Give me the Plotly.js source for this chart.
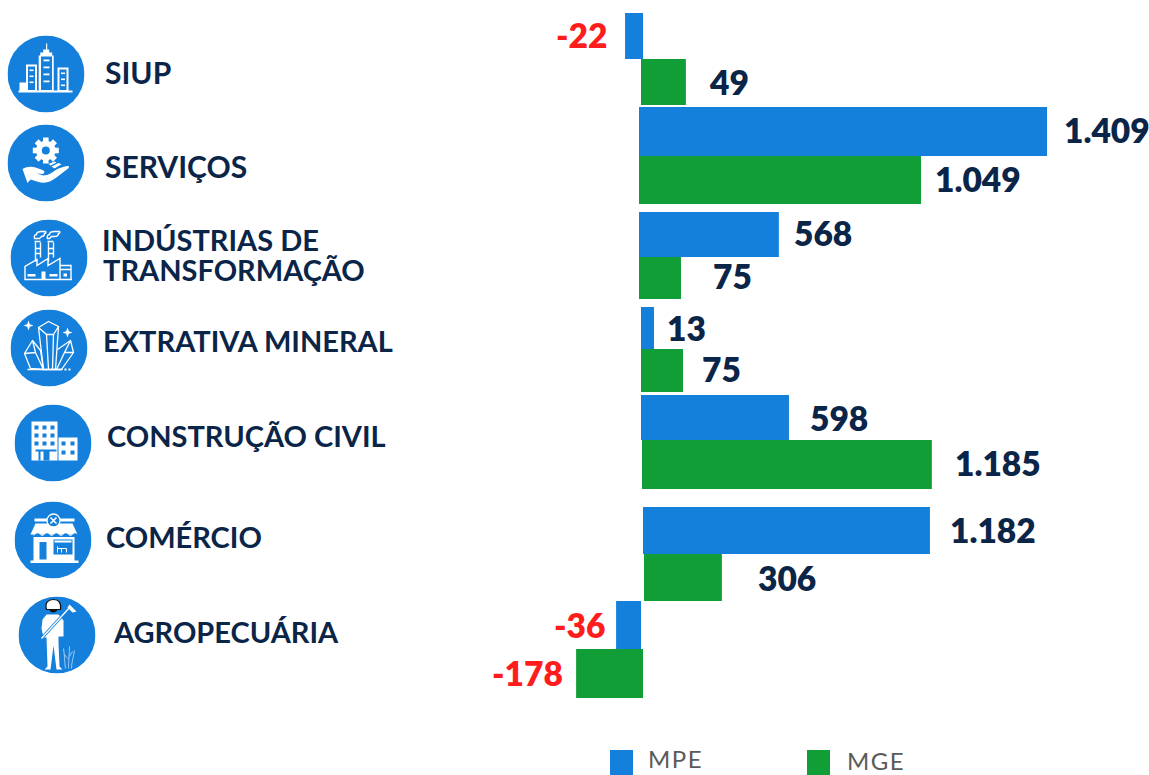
<!DOCTYPE html>
<html><head><meta charset="utf-8">
<script src="https://cdn.plot.ly/plotly-3.0.1.min.js"></script>
<style>html,body{margin:0;padding:0;background:#fff;overflow:hidden}#c{width:1149px;height:775px}</style>
</head><body><div id="c"></div>
<script>
// ---- data ----
const categories = ["SIUP","SERVIÇOS","INDÚSTRIAS DE\nTRANSFORMAÇÃO","EXTRATIVA MINERAL","CONSTRUÇÃO CIVIL","COMÉRCIO","AGROPECUÁRIA"];
// printed labels
const mpeLabels = ["-22","1.409","568","13","598","1.182","-36"];
const mgeLabels = ["49","1.049","75","75","1.185","306","-178"];
// bar lengths as actually drawn in the picture (it is not to a strict scale), in units where the 1.409 bar = 1409
const mpeBars = [-62,1409,483,45,511,991,-86];
const mgeBars = [155,974,145,145,1001,269,-231];

// ---- layout constants ----
const W=1149,H=775, zeroPx=641, pxPerUnit=408/1409;
const u = px => px/pxPerUnit;
const mpeBaseOff=[2,-2,-2,0,0,2,0], mgeBaseOff=[0,-2,-2,0,1,3,2];
const mpeBand=[[13,59],[107,156],[212,257],[307,349],[395,440],[507,554],[601,649]];
const mgeBand=[[59,105],[156,204],[257,299],[349,392],[440,489],[554,601],[649,698]];
const mpeLab=[[607,35.500],[1064,129.500],[794,232.500],[667,327.500],[810,417.500],[950,529.500],[605,624.500]];
const mgeLab=[[709,81.500],[935,178.500],[713,275.500],[702,368.500],[955,462.500],[758,577.500],[563,672.500]];
const catPos=[[[105,72.500]],[[105,165.500]],[[102,239.500],[103,269.500]],[[103,340.500]],[[107,435.500]],[[106,536.500]],[[113,631.500]]];
const catSize=[30,30,29,29,29,29,29];
const BLUE="#1580dc",GREEN="#129e36",NAVY="#0b2548",RED="#ff1c1c",GREY="#5a5a5a";

const px=x=>x/W, py=y=>1-y/H;
function barTrace(name,vals,bands,off,color){
  return {type:"bar",orientation:"h",name:name,x:vals,
    base:off.map(o=>u(o)),
    y:bands.map(b=>(b[0]+b[1])/2), width:bands.map(b=>b[1]-b[0]),
    marker:{color:color,line:{width:0}},hoverinfo:"skip",showlegend:false};
}
const data=[barTrace("MPE",mpeBars,mpeBand,mpeBaseOff,BLUE),barTrace("MGE",mgeBars,mgeBand,mgeBaseOff,GREEN)];

const ann=[];
function add(text,x,y,size,color,weight,anchor){
  ann.push({xref:"paper",yref:"paper",x:px(x),y:py(y),text:text,showarrow:false,xanchor:anchor||"left",yanchor:"middle",
    borderpad:0,borderwidth:0,font:{family:"Lato",size:size,color:color,weight:weight}});
}
function addLabels(labels,pos){labels.forEach((t,i)=>{const neg=t[0]==="-";
  add(t,pos[i][0],pos[i][1],33.500,neg?RED:NAVY,800,neg?"right":"left");});}
addLabels(mpeLabels,mpeLab);addLabels(mgeLabels,mgeLab);
categories.forEach((c,i)=>c.split("\n").forEach((l,j)=>add(l,catPos[i][j][0],catPos[i][j][1],catSize[i],NAVY,700)));
const sp=s=>s.split("").join("\u200a");
add(sp("MPE"),648,758,24,GREY,400);add(sp("MGE"),847,760.500,24,GREY,400);

const shapes=[[610,750,633,775,BLUE],[807,750,830,775,GREEN]].map(s=>({type:"rect",xref:"paper",yref:"paper",
  x0:px(s[0]),x1:px(s[2]),y0:py(s[1]),y1:py(s[3]),fillcolor:s[4],line:{width:0}}));

// ---- icons ----
const B=BLUE;
function win(list){return list.map(r=>`<rect x="${r[0]}" y="${r[1]}" width="${r[2]}" height="${r[3]}" fill="${B}"/>`).join("");}
const glyphs={
 siup:`<g fill="#fff"><rect x="11" y="55" width="54" height="2"/><path d="M38.500 8h1.200v6h2v3h3v3h1.500v36h-15V20h1.500v-3h3v-3h2.800z"/><rect x="18.500" y="29" width="11" height="27"/><rect x="50" y="32" width="11" height="24"/><rect x="12" y="47" width="7" height="9"/></g>
   <rect x="33.500" y="21" width="11" height="33.500" fill="${B}"/><rect x="20.500" y="31" width="7" height="23.500" fill="${B}"/><rect x="52" y="34" width="7" height="20.500" fill="${B}"/>
   <g fill="#fff"><rect x="36" y="24" width="6" height="1.800"/><rect x="36" y="31" width="6" height="1.800"/><rect x="36" y="38" width="6" height="1.800"/><rect x="36" y="45" width="6" height="1.800"/>
   <rect x="22" y="34" width="4" height="1.600"/><rect x="22" y="40" width="4" height="1.600"/><rect x="22" y="46" width="4" height="1.600"/><rect x="53.500" y="37" width="4" height="1.600"/><rect x="53.500" y="43" width="4" height="1.600"/><rect x="53.500" y="49" width="4" height="1.600"/></g>`,
 serv:`<g fill="#fff"><g transform="translate(38.300 26)"><circle r="9.800"/>${[0,45,90,135,180,225,270,315].map(a=>`<rect x="-2.800" y="-13" width="5.600" height="5" transform="rotate(${a})"/>`).join("")}</g>
   <circle cx="38.300" cy="26" r="4" fill="${B}"/>
   <path d="M15 44.500c4-2.500 9-3 13-1.500l7 2.500c2.500 1 2.500 3.500 0 4l-6-.5 7 2c4 0 9-3 13-6 3-1.500 9-3.500 12-3.500 1 .5 .5 2-1 3-4 3-10 8-15 11-4 2.500-9 3.500-14 2l-8-2.500-3 3.500z"/>
   <path d="M44 42l7-3.500 3 1.200-7 4.300zM41 39.500l6-2.500 2 1-6 3z"/></g>`,
 ind:`<g fill="none" stroke="#fff" stroke-width="1.400"><path d="M24 22h6M37 22h6M25 23v19M30 23v15M38 23v19M43 23v15M25 29h5M25 34h5M38 29h5M38 34h5"/>
   <path d="M24 19c-1-3 1-4 2-4 0-3 3-3 5-3h4c1 1 0 2-1 2 0 2-1 3-3 3l-2 2zM37 19c-1-3 1-4 2-4 0-3 3-3 5-3h5c1 1 0 2-1 2 0 2-2 3-4 3h-3l-2 2z"/>
   <path d="M14.500 60V47l12-7v6l11-7v7l12-7v21zM49.500 46h11v14M49.500 50h11M14.500 60h47"/></g>
   <g fill="#fff"><rect x="17" y="54.500" width="8" height="2.500"/><rect x="39" y="54.500" width="8" height="2.500"/><rect x="31" y="52" width="4" height="8"/><rect x="53" y="54" width="3.500" height="3"/></g>`,
 ext:`<g fill="none" stroke="#fff" stroke-width="1.300" stroke-linejoin="round"><path d="M28 18l10-6 10 5-3 43H33zM28 18l8 7h7l5-8M36 25l2 35M43 25l-1 35"/>
   <path d="M33 60l-13-1-6-15 8-13 8 10zM14 44l11-1 8 17M25 43l-3-12"/><path d="M45 60h6l12-17-3-12-13 9M60 31l-6 12-8 17M54 43l9 0"/>
   <path d="M17 60h35"/></g><g fill="#fff"><path d="M18 11l1.300 3.700L23 16l-3.700 1.300L18 21l-1.300-3.700L13 16l3.700-1.300zM57 18l1.300 3.700L62 23l-3.700 1.300L57 28l-1.300-3.700L52 23l3.700-1.300z"/><rect x="54" y="59" width="2" height="2"/><rect x="58" y="59" width="2" height="2"/></g>`,
 con:`<rect x="17" y="17" width="26" height="39" fill="#fff"/><rect x="44" y="33" width="19" height="23" fill="#fff"/>
   ${win([[20,21,4,4],[28,21,4,4],[36,21,4,4],[20,29,4,4],[28,29,4,4],[36,29,4,4],[20,37,4,4],[28,37,4,4],[36,37,4,4],[47,37,4,4],[56,37,4,4],[47,46,4,4],[56,46,4,4]])}
   <path d="M21 45h21v2H21zM24 47h2v9h-2zM29 47h6v9h-6z" fill="${B}"/>`,
 com:`<g fill="#fff"><rect x="20" y="17" width="40" height="3"/><path d="M21 22h37l5 11H16z"/><rect x="19" y="33" width="41" height="27"/><rect x="16" y="59" width="48" height="2.500"/></g>
   <circle cx="39" cy="19" r="6.500" fill="${B}" stroke="#fff" stroke-width="1.300"/><path d="M36 16l6 6M42 16l-6 6" stroke="#fff" stroke-width="1.600"/>
   <path d="M16 33q2.300 2.500 4.700 0t4.700 0 4.700 0 4.700 0 4.700 0 4.700 0 4.700 0 4.700 0 4.700 0 4.700 0v2.500H16z" fill="${B}"/>
   <rect x="24.500" y="40" width="8" height="18" fill="#fff"/><rect x="25" y="40.500" width="7" height="17.500" fill="${B}"/>
   <rect x="39" y="38" width="19" height="15" fill="${B}"/><rect x="40" y="39" width="17" height="2" fill="#fff"/><path d="M43 45v6M43 47h9M52 47v4M47 47v4" stroke="#fff" stroke-width="1" fill="none"/>`,
 agr:`<path d="M28 13c-2-7 2-10 7-10s8 3 7 10z" fill="#fff" stroke="#111" stroke-width="1.200"/><path d="M31 13c0 4 7 4 8 0z" fill="#111"/>
   <path fill="#fff" d="M28 18h12l5 6v16h-5v7l1 23 3 3h-6l-3-24-3 24h-6l3-3-1-29h-3l-2-9 1-9z"/>
   <path d="M23 42L52 10" stroke="${B}" stroke-width="3"/><path d="M23 42L52 10" stroke="#fff" stroke-width="1.300"/><path d="M51 8l7 7-4 1-5-5z" fill="#fff"/>
   <g stroke="#bcdcf5" stroke-width=".8" fill="none"><path d="M47 72c-1-8-1-14-2-20M50 72c0-8 1-16 1-22M53 72c0-6 2-12 3-18M49 62l-3-4M51 60l3-5"/></g>`
};
const iconPos=[[46,74,"siup"],[46,163,"serv"],[49,258,"ind"],[49,348,"ext"],[53,443,"con"],[53,540,"com"],[57,635,"agr"]];
const R=38.500;
const images=iconPos.map(p=>{
  const svg=`<svg xmlns="http://www.w3.org/2000/svg" width="77" height="77" viewBox="0 0 77 77"><circle cx="38.500" cy="38.500" r="38.500" fill="${B}"/>${glyphs[p[2]]}</svg>`;
  return {source:"data:image/svg+xml;charset=utf-8,"+encodeURIComponent(svg),xref:"paper",yref:"paper",
    x:px(p[0]-R),y:py(p[1]-R),sizex:2*R/W,sizey:2*R/H,xanchor:"left",yanchor:"top",sizing:"stretch",layer:"above"};
});

const layout={width:W,height:H,margin:{l:0,r:0,t:0,b:0,pad:0},paper_bgcolor:"#fff",plot_bgcolor:"#fff",barmode:"overlay",showlegend:false,
  xaxis:{range:[u(-zeroPx),u(W-zeroPx)],visible:false,fixedrange:true},
  yaxis:{range:[H,0],visible:false,fixedrange:true},
  annotations:ann,shapes:shapes,images:images,font:{family:"Lato"}};
Plotly.newPlot("c",data,layout,{displayModeBar:false,staticPlot:true});
</script></body></html>
